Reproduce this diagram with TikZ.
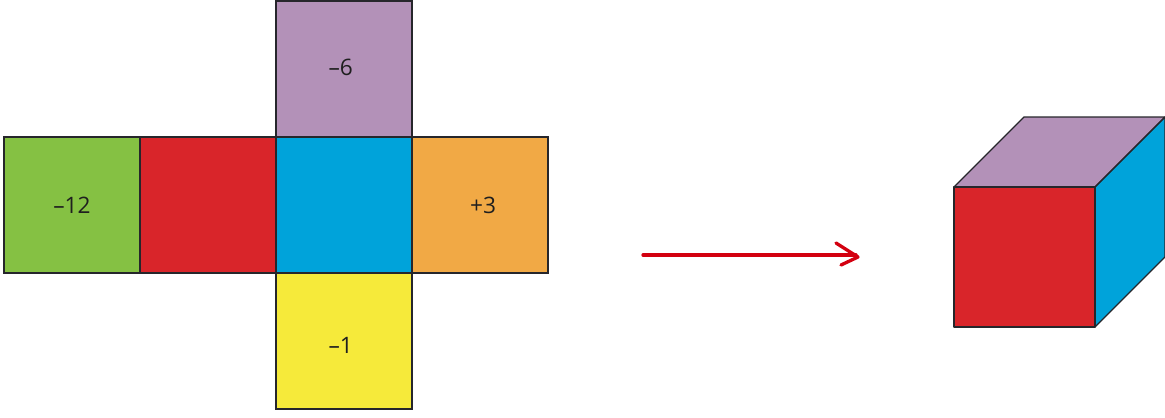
\documentclass[tikz,border=0pt]{standalone}
\usepackage{fontspec}
\setmainfont{Open Sans}
\definecolor{cpurple}{HTML}{B391B8}
\definecolor{cred}{HTML}{D9252A}
\definecolor{cblue}{HTML}{00A3DA}
\definecolor{cgreen}{HTML}{85C143}
\definecolor{corange}{HTML}{F1A945}
\definecolor{cyellow}{HTML}{F6EA3A}
\definecolor{carrow}{HTML}{D30010}
\definecolor{cedge}{HTML}{26262B}
\tikzset{
  face/.style={draw=cedge,line width=0.8pt,minimum width=102pt,minimum height=102pt,inner sep=0pt,outer sep=0pt,text=black!88,font=\fontsize{17}{20}\selectfont},
  cubeface/.style={draw=cedge,line width=1pt,line join=round},
  handarrow/.style={draw=carrow,line width=2.5pt,line cap=round,line join=round}
}
\begin{document}
\begin{tikzpicture}[x=0.75pt,y=-0.75pt]
\useasboundingbox (0,0) rectangle (1165,418);
\node[face,fill=cgreen] (green) at (72,205) {–12};
\node[face,fill=cred] (red) at (208,205) {};
\node[face,fill=cblue] (blue) at (344,205) {};
\node[face,fill=corange] (orange) at (480,205) {\kern4.5pt +3};
\node[face,fill=cpurple] (purple) at (344,69) {\smash{\raisebox{-4.5pt}{\kern-5pt –6}}};
\node[face,fill=cyellow] (yellow) at (344,341) {\smash{\raisebox{-9pt}{\kern-5pt –1}}};
% cube
\coordinate (a) at (954,187);
\coordinate (b) at (1095,187);
\coordinate (c) at (1095,327);
\coordinate (d) at (954,327);
\coordinate (e) at (1024,117);
\coordinate (f) at (1165,117);
\coordinate (g) at (1165,257);
\fill[cpurple] (a) -- (e) -- (f) -- (b) -- cycle;
\fill[cblue] (b) -- (f) -- (g) -- (c) -- cycle;
\draw[cubeface] (a) -- (e) -- (f) -- (b) -- cycle;
\draw[cubeface] (b) -- (f) -- (g) -- (c) -- cycle;
\draw[cubeface,fill=cred] (a) -- (b) -- (c) -- (d) -- cycle;
% arrow
\coordinate (s) at (643,255);
\coordinate (t) at (858,257);
\coordinate (u) at (836,243);
\coordinate (v) at (841,265);
\draw[handarrow] (s) -- (856,255);
\draw[handarrow] (u) -- (t) -- (v);
\end{tikzpicture}
\end{document}
